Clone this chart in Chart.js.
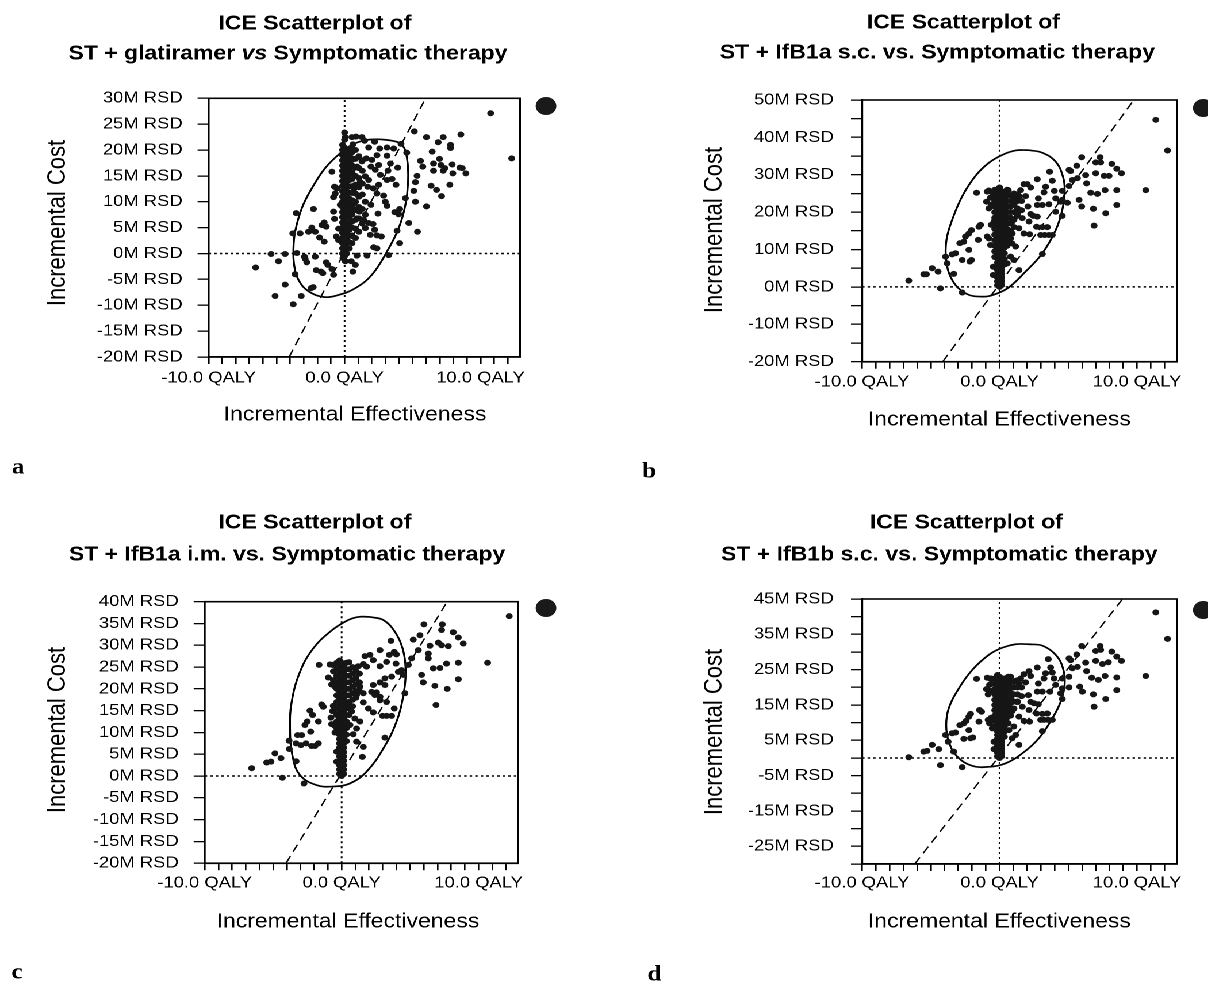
<!DOCTYPE html>
<html><head><meta charset="utf-8">
<script src="https://cdn.jsdelivr.net/npm/chart.js@4.4.0/dist/chart.umd.min.js"></script>
<style>
html,body{margin:0;padding:0;background:#fff;overflow:hidden;width:1208px;height:983px;}
#stage{position:absolute;left:0;top:0;width:1051px;height:983px;transform:scaleX(1.15);transform-origin:0 0;}
#stage canvas{position:absolute;}
</style></head><body>
<div id="stage">
<canvas id="ca" width="522" height="490" style="left:0px;top:0px"></canvas>
<canvas id="cb" width="529" height="490" style="left:521.7px;top:0px"></canvas>
<canvas id="cc" width="522" height="493" style="left:0px;top:490px"></canvas>
<canvas id="cd" width="529" height="493" style="left:521.7px;top:490px"></canvas>
</div>
<script>
// ---------- shared axis data ----------
const effRange = [-10, 12.9];
const effLabelEvery = 10;

// ---------- panel a : ST + glatiramer ----------
const aCostRange = [-20, 30];
const aPoints = [[10.74,27.1],[12.29,18.4],[5.13,23.6],[6.02,22.5],[7.25,22.5],[6.88,21.5],[8.55,23.0],[7.79,21.0],[7.79,20.4],[6.44,19.7],[4.57,19.5],[4.15,21.2],[6.98,18.3],[5.58,17.9],[5.75,16.8],[6.54,17.4],[6.54,16.0],[7.08,17.1],[7.25,16.0],[7.37,16.5],[7.91,17.2],[7.96,15.5],[8.48,16.6],[8.65,16.5],[8.92,15.5],[7.74,13.3],[7.13,11.1],[6.76,12.3],[6.36,13.1],[5.33,15.0],[5.21,13.8],[5.09,12.1],[5.21,10.0],[6.02,9.1],[5.36,4.2],[4.72,5.9],[4.05,2.0],[3.86,4.4],[3.24,-0.3],
[0,23.4],[0.05,22.5],[0.54,22.5],[0.84,22.6],[1.28,22.5],[1.47,21.8],[0.61,21.1],[0.54,20.3],[1.77,20.5],[2.21,21.6],[2.58,20.3],[3.12,20.5],[3.61,20.3],[3.12,18.9],[2.38,19.0],[2.01,18.1],[1.6,18.4],[1.28,17.8],[0.54,18.1],[0.91,16.8],[1.94,16.8],[2.51,17.1],[2.26,16.2],[2.63,15.2],[3.19,16.0],[3.37,17.4],[3.91,16.6],[3.49,14.4],[3.78,13.3],[3.12,14.2],[1.52,14.9],[1.77,14.2],[1.15,13.8],[0.71,12.6],[1.70,12.9],[2.11,12.6],[2.51,13.3],[2.38,11.6],[2.87,11.2],[2.99,10.0],[3.12,9.2],[3.69,8.0],[3.98,7.6],[4.05,8.6],[4.47,10.7],[2.46,7.7],[1.94,9.4],[1.52,10.0],[1.52,7.5],[1.08,8.1],[0.69,9.7],[0.91,6.8],[1.40,6.5],[1.77,5.9],[2.09,5.7],[1.52,4.9],[1.89,3.6],[2.21,4.6],[2.38,3.5],[2.70,3.3],[2.14,1.2],[2.38,1.0],[0.91,-0.4],[1.65,-0.4],[0.49,-1.5],[0.79,-2.2],[0.61,-3.5],[0.05,-1.5],[-0.12,-0.9],
[-0.93,15.8],[-0.81,10.9],[-0.69,11.6],[-0.74,12.9],[-0.57,12.6],[-2.29,8.6],[-3.56,7.8],[-1.5,6.0],[-1.67,5.5],[-2.41,5.0],[-2.65,4.2],[-2.16,4.2],[-3.81,3.9],[-3.27,3.9],[-1.84,3.1],[-1.5,2.3],[-0.81,8.1],[-0.74,6.7],[-0.61,3.3],[-0.44,2.6],[-4.37,-0.1],[-5.41,-0.1],[-4.86,-1.5],[-6.54,-2.7],[-2.95,-0.6],[-2.9,-1.0],[-2.16,-0.6],[-2.78,-1.7],[-1.35,-1.7],[-1.23,-2.2],[-2.09,-3.2],[-1.74,-3.5],[-1.6,-3.8],[-0.93,-3.0],[-0.81,-4.1],[-3.64,-4.0],[-4.37,-6.0],[-5.11,-8.2],[-3.78,-9.8],[-3.19,-8.2],[-2.46,-6.7],[-2.31,-6.5],[-3.51,0.1],[-1.35,5.2],[-0.44,4.8],[-0.32,9.4]];
const aBandEff = [-0.15, 0, 0.15, 0.35, 0.55, 0.8, 1.05, 1.3];
const aBandCost = [
 [0,1,2,3,4,5,6,7,8,9,10,11,12,13,14,15,16,17,18,19,20,21],
 [-0.5,0.5,1.5,2.5,3.5,4.5,5.5,6.5,7.5,8.5,9.5,10.5,11.5,12.5,13.5,14.5,15.5,16.5,17.5,18.5,19.5,20.5,22],
 [0,1,2,3,4,5,6,7,8,9,10,11,12,13,14,15,16,17,18,19,20],
 [1,2.2,3.4,4.6,5.8,7,8.2,9.4,10.6,11.8,13,14.2,15.4,16.6,17.8,19,20.2],
 [2,3.5,5,6.2,7.6,9,10.3,11.7,13,14.4,15.7,17,18.4,19.6],
 [3,4.8,6.5,8.4,10,11.6,13.3,15,16.6,18.3,20],
 [4.2,6.8,9,11,12.8,14.6,16.5,18.8],
 [5.8,8.6,11.4,13.5,16,18]];
const aEllipse = [[2.51,22.1],[3.49,21.8],[4.23,21.0],[4.59,18.4],[4.67,13.9],[4.47,9.4],[3.98,4.9],[3.12,0.4],[2.01,-4.1],[0.79,-6.7],[-0.44,-8.0],[-1.55,-8.4],[-2.65,-7.3],[-3.39,-5.1],[-3.71,-2.2],[-3.76,1.0],[-3.64,4.2],[-3.14,8.8],[-2.41,12.6],[-1.43,16.5],[-0.32,19.4],[0.54,21.0],[1.52,21.9],[2.51,22.1]];
const aThreshold = [[-4.08,-20],[5.96,30]];

// ---------- panel b : ST + IfB1a s.c. ----------
const bCostRange = [-20, 50];
const bPoints = [[11.36,44.7],[12.21,36.5],[10.63,25.9],[5.97,34.7],[7.31,34.7],[7.35,33.3],[6.99,33.3],[8.16,32.9],[8.52,31.6],[8.86,30.4],[5.61,32.4],[5.05,31.3],[5.17,31.0],[5.66,29.1],[6.26,29.9],[6.99,30.4],[7.6,29.7],[7.96,29.7],[6.33,27.7],[6.63,25.2],[7.11,24.9],[7.67,25.9],[8.52,25.9],[5.78,23.3],[5.97,21.5],[6.82,20.9],[7.72,19.7],[8.52,21.9],[6.87,16.4],[5.05,27.0],[5.29,28.6],[4.93,22.5],[4.44,22.8],
[3.64,30.8],[3.83,28.4],[3.35,26.8],[2.74,28.8],[2.01,27.5],[1.77,27.5],[2.26,26.6],[1.53,25.9],[0.63,25.9],[1.04,24.8],[1.41,24.3],[1.89,24.3],[2.82,23.7],[3.23,25.3],[3.98,25.7],[4.56,25.7],[4.08,23.7],[4.56,23.3],[3.59,22.1],[3.11,21.9],[2.74,21.9],[2.06,21.5],[2.26,19.5],[2.45,19.0],[2.74,18.8],[2.14,17.5],[1.65,18.4],[1.29,19.7],[0.92,17.5],[1.41,15.7],[1.77,14.3],[2.18,14.1],[2.69,16.1],[3.11,16.0],[3.47,16.0],[3.83,13.9],[3.59,13.9],[3.28,13.9],[2.99,13.9],[4.08,20.1],[4.56,19.0],[3.11,8.8],[0.92,14.3],[1.17,10.8],[1.41,4.5],[1.04,7.2],[0.8,8.1],[0.56,6.3],[0.92,11.6],
[-1.67,25.2],[-0.9,25.5],[-0.78,25.8],[-0.66,23.9],[-0.78,21.0],[-0.95,22.8],[-1.5,16.1],[-1.38,16.6],[-0.61,16.6],[-0.9,13.5],[-0.78,13.0],[-0.66,11.2],[-0.41,17.5],[-2.23,14.3],[-2.04,15.2],[-2.48,13.5],[-1.55,12.6],[-2.6,12.1],[-2.89,11.7],[-2.23,9.9],[-2.04,7.2],[-2.16,6.8],[-2.72,7.2],[-3.2,9.0],[-3.45,8.7],[-3.81,6.3],[-3.93,8.1],[-4.9,5.0],[-4.47,4.1],[-5.51,3.4],[-5.32,3.4],[-6.6,1.7],[-4.3,-0.4],[-2.72,-1.5],[-3.33,3.5],[-0.46,5.4],[-0.46,3.2]];
const bBandEff = [-0.15, 0, 0.15, -0.35, 0.35, 0.55, 0.8, 1.05, 1.3, 1.6, -0.6];
const bBandCost = [
 [0.5,1.5,2.5,3.5,4.5,5.5,6.5,7.5,8.5,9.5,10.5,11.5,12.5,13.5,14.5,15.5,16.5,17.5,18.5,19.5,20.5,21.5,22.5,23.5,24.5,25.5],
 [0,1,2,3,4,5,6,7,8,9,10,11,12,13,14,15,16,17,18,19,20,21,22,23,24,25,26,26.6],
 [0.5,1.5,2.5,3.5,4.5,5.5,6.5,7.5,8.5,9.5,10.5,11.5,12.5,13.5,14.5,15.5,16.5,17.5,18.5,19.5,20.5,21.5,22.5,23.5,24.5,25.5],
 [8,9.5,11,12.5,14,15.5,17,18.5,20,21.5,23,24.5,26],
 [6,7.5,9,10.5,12,13.5,15,16.5,18,19.5,21,22.5,24,25.5],
 [11,12.5,14,15.5,17,18.5,20,21.5,23,24.5,26],
 [13,15,17,18.5,20,21.5,23,24.5],
 [16,18,20,22,23.5,25],
 [19,21,23,24.8],
 [20.5,23],
 [22,24,25.5]];
const bEllipse = [[2.09,36.6],[3.11,35.9],[4.08,33.5],[4.61,29.5],[4.73,25.9],[4.56,20.6],[4.08,15.2],[3.11,9.0],[1.89,4.1],[0.68,-0.1],[-0.29,-1.9],[-1.26,-2.6],[-2.48,-1.7],[-3.45,1.9],[-3.88,7.2],[-3.86,12.6],[-3.45,17.9],[-2.72,24.2],[-1.75,29.7],[-0.78,33.2],[0.19,35.3],[1.17,36.5],[2.09,36.6]];
const bThreshold = [[-4.13,-20],[9.76,50]];

// ---------- panel c : ST + IfB1a i.m. ----------
const cCostRange = [-20, 40];
const cPoints = [[12.24,36.7],[10.66,26.0],[6.01,34.8],[7.35,34.8],[7.3,33.5],[8.15,33.0],[8.52,31.8],[8.88,30.4],[7.79,29.8],[7.3,30.0],[7.06,30.6],[6.45,29.9],[6.33,28.1],[6.33,27.0],[6.69,24.7],[7.18,24.8],[7.66,25.8],[8.52,26.0],[5.84,23.2],[5.96,21.5],[6.81,20.7],[7.71,20.0],[8.52,22.2],[6.89,16.3],[5.72,32.3],[5.23,31.3],[5.6,28.9],[5.11,27.0],[4.87,25.5],[4.5,23.2],[4.62,19.0],
[3.6,31.0],[3.84,28.5],[4.0,27.9],[3.48,27.8],[2.8,28.9],[2.07,27.8],[1.7,27.5],[2.31,26.6],[1.58,25.7],[1.22,25.2],[0.54,26.1],[1.82,25.1],[2.8,25.2],[3.28,26.2],[3.97,25.8],[4.38,24.3],[4.14,23.9],[3.65,22.8],[3.16,22.4],[2.8,21.5],[2.31,20.9],[2.19,19.3],[2.55,19.2],[2.43,18.6],[2.8,18.2],[3.16,20.9],[1.58,19.0],[1.34,20.5],[1.09,18.6],[1.58,16.9],[1.95,15.5],[2.31,14.6],[2.8,17.4],[3.28,17.0],[2.99,13.8],[3.28,13.8],[3.65,13.8],[3.84,15.5],[3.16,8.8],[1.51,4.4],[1.58,6.7],[1.09,7.9],[0.85,9.6],[1.09,10.9],[0.61,11.7],[0.97,13.2],[1.34,12.5],[0.73,14.8],[0.49,16.3],
[-1.65,25.5],[-0.85,25.6],[-0.66,25.5],[-0.97,22.6],[-0.73,21.0],[-0.49,20.5],[-1.46,16.4],[-1.34,15.9],[-0.61,16.1],[-0.66,14.9],[-0.78,13.4],[-0.73,11.9],[-0.49,11.5],[-0.49,10.0],[-2.31,15.0],[-2.12,14.0],[-2.51,12.5],[-1.7,12.5],[-2.68,11.7],[-2.26,10.2],[-2.92,9.4],[-3.21,9.4],[-3.84,8.1],[-3.82,6.2],[-3.33,7.5],[-2.97,7.1],[-2.6,7.5],[-2.19,6.9],[-1.95,6.9],[-1.7,7.5],[-4.87,5.2],[-4.43,4.1],[-5.47,3.1],[-5.16,3.3],[-6.57,1.8],[-4.33,-0.4],[-3.33,3.4],[-2.75,-1.7],[-0.36,5.6],[-0.36,3.3]];
const cBandEff = [-0.15, 0, 0.15, -0.35, 0.35, 0.55, 0.8, 1.05, 1.3, -0.6];
const cBandCost = [
 [0.5,1.5,2.5,3.5,4.5,5.5,6.5,7.5,8.5,9.5,10.5,11.5,12.5,13.5,14.5,15.5,16.5,17.5,18.5,19.5,20.5,21.5,22.5,23.5,24.5,25.5,26.5],
 [0,1,2,3,4,5,6,7,8,9,10,11,12,13,14,15,16,17,18,19,20,21,22,23,24,25,26],
 [0.5,1.5,2.5,3.5,4.5,5.5,6.5,7.5,8.5,9.5,10.5,11.5,12.5,13.5,14.5,15.5,16.5,17.5,18.5,19.5,20.5,21.5,22.5,23.5,24.5,25.5],
 [11,12.5,14,15.5,17,18.5,20,21.5,23,24.5,26],
 [8,9.5,11,12.5,14,15.5,17,18.5,20,21.5,23,24.5,26],
 [14,15.5,17,18.5,20,21.5,23,24.5],
 [16,17.5,19,20.5,22,23.5,25],
 [18,19.5,21,22.5,24],
 [19.5,21.5,23.5],
 [22,24,25.5]];
const cEllipse = [[2.07,36.5],[3.04,35.8],[3.89,33.1],[4.45,29.3],[4.67,24.7],[4.55,19.3],[4.01,12.5],[3.04,6.3],[1.82,1.0],[0.61,-1.7],[-0.61,-2.4],[-1.82,-2.1],[-3.04,0.2],[-3.6,4.8],[-3.77,10.9],[-3.65,17.0],[-3.04,23.9],[-2.07,29.3],[-0.85,33.1],[0.36,35.6],[1.22,36.5],[2.07,36.5]];
const cThreshold = [[-4.06,-20],[7.71,40]];

// ---------- panel d : ST + IfB1b s.c. ----------
const dCostRange = [-30, 45];
const dPoints = [[11.36,41.2],[12.21,33.7],[10.63,23.2],[5.97,31.7],[7.31,31.7],[7.35,30.6],[6.99,30.3],[8.16,30.1],[8.52,28.7],[8.86,27.5],[5.61,29.3],[5.05,28.2],[5.17,27.7],[5.66,25.8],[6.26,27.0],[6.99,27.5],[7.48,26.6],[7.91,27.1],[6.33,24.6],[6.7,22.7],[7.18,22.1],[7.67,23.2],[8.52,22.8],[5.83,20.2],[6.02,18.8],[6.82,18.0],[7.72,16.7],[8.52,19.2],[6.87,14.5],[5.05,23.0],[5.29,25.4],[5.05,20.0],[4.56,16.7],[4.44,18.3],
[3.54,28.0],[3.71,25.6],[3.83,24.2],[3.35,24.0],[2.74,25.6],[2.14,24.6],[1.77,23.7],[2.26,23.2],[1.53,22.5],[0.63,23.0],[1.12,21.8],[1.41,21.1],[1.89,21.4],[2.82,21.1],[3.23,22.5],[3.96,22.5],[4.56,22.5],[4.08,20.7],[4.56,19.7],[3.66,18.8],[3.11,18.8],[2.74,18.8],[2.09,17.8],[2.26,15.9],[2.5,15.5],[2.82,15.2],[2.14,13.6],[1.65,14.5],[1.29,15.8],[0.92,13.3],[1.41,11.7],[1.77,10.5],[2.18,10.3],[2.69,12.6],[3.11,12.5],[3.47,12.6],[3.83,10.8],[3.54,10.8],[3.23,10.8],[2.99,10.8],[3.11,7.6],[1.41,3.7],[1.17,6.5],[0.92,5.6],[0.68,7.9],[1.04,8.9],[0.63,9.8],
[-1.67,22.4],[-0.9,22.7],[-0.66,22.5],[-0.73,20.7],[-0.83,18.0],[-0.95,19.5],[-1.46,13.6],[-1.31,13.1],[-0.61,11.4],[-0.83,10.8],[-0.73,9.8],[-0.53,8.4],[-0.41,4.6],[-2.23,11.7],[-2.11,12.5],[-2.43,10.5],[-1.5,10.3],[-2.6,9.8],[-2.89,9.3],[-2.23,7.9],[-1.94,5.8],[-2.11,5.6],[-2.6,5.4],[-3.2,7.2],[-3.45,7.0],[-3.74,4.6],[-3.93,6.5],[-4.9,3.7],[-4.42,2.5],[-5.51,1.8],[-5.27,2.0],[-6.6,0.2],[-4.3,-2.0],[-2.72,-2.6],[-3.33,1.8],[-0.41,2.5]];
const dBandEff = [-0.15, 0, 0.15, -0.35, 0.35, 0.55, 0.8, 1.05, 1.3, 1.6, -0.6];
const dBandCost = [
 [0.5,1.5,2.5,3.5,4.5,5.5,6.5,7.5,8.5,9.5,10.5,11.5,12.5,13.5,14.5,15.5,16.5,17.5,18.5,19.5,20.5,21.5,22.5,23.5],
 [0,1,2,3,4,5,6,7,8,9,10,11,12,13,14,15,16,17,18,19,20,21,22,23],
 [0.5,1.5,2.5,3.5,4.5,5.5,6.5,7.5,8.5,9.5,10.5,11.5,12.5,13.5,14.5,15.5,16.5,17.5,18.5,19.5,20.5,21.5,22.5],
 [9,10.5,12,13.5,15,16.5,18,19.5,21,22.5],
 [6,7.5,9,10.5,12,13.5,15,16.5,18,19.5,21,22.5],
 [10,11.5,13,14.5,16,17.5,19,20.5,22],
 [12,14,15.5,17,18.5,20,21.5,23],
 [14,16,18,20,21.5],
 [16,18,20,22],
 [17.5,20],
 [19,21,22.5]];
const dEllipse = [[2.14,32.2],[3.11,31.8],[4.08,29.2],[4.61,25.4],[4.73,20.7],[4.44,15.9],[3.83,11.2],[2.86,5.6],[1.65,1.3],[0.44,-1.5],[-0.78,-2.5],[-1.99,-2.2],[-3.08,0.4],[-3.69,4.6],[-3.88,9.3],[-3.69,14.1],[-2.96,19.7],[-1.99,24.9],[-0.78,29.2],[0.19,31.2],[1.17,32.2],[2.14,32.2]];
const dThreshold = [[-6.17,-30],[8.94,45]];

// ---------- titles ----------
const titleLine1 = 'ICE Scatterplot of';
const aTitle2 = [['ST + glatiramer ', false], ['vs', true], [' Symptomatic therapy', false]];
const bTitle2 = [['ST + IfB1a s.c. vs. Symptomatic therapy', false]];
const cTitle2 = [['ST + IfB1a i.m. vs. Symptomatic therapy', false]];
const dTitle2 = [['ST + IfB1b s.c. vs. Symptomatic therapy', false]];
const xTitle = 'Incremental Effectiveness';
const yTitle = 'Incremental Cost';

const SANS = "'Liberation Sans', Arial, Helvetica, sans-serif";
const SERIF = "'Liberation Serif', 'Times New Roman', serif";

const toXY = arr => arr.map(p => ({x: p[0], y: p[1]}));
const bandXY = (effs, costs) => effs.flatMap((e, i) => costs[i].map(c => ({x: e, y: c})));

function buildPanel(cfg) {
  const plotPlugin = {
    id: 'deco' + cfg.id,
    afterDraw(chart) {
      const ctx = chart.ctx, ca = chart.chartArea;
      ctx.save();
      ctx.strokeStyle = '#000'; ctx.lineWidth = 1.6;
      ctx.strokeRect(ca.left, ca.top, ca.right - ca.left, ca.bottom - ca.top);
      ctx.fillStyle = '#000';
      ctx.textBaseline = 'middle';
      ctx.font = 'bold 20px ' + SANS;
      ctx.textAlign = 'center';
      ctx.fillText(titleLine1, cfg.t1[0], cfg.t1[1]);
      const parts = cfg.title2.map(([s, it]) => {
        ctx.font = (it ? 'italic bold 20px ' : 'bold 20px ') + SANS;
        return {s, it, w: ctx.measureText(s).width};
      });
      const total = parts.reduce((a, p) => a + p.w, 0);
      let x = cfg.t2[0] - total / 2;
      ctx.textAlign = 'left';
      parts.forEach(p => {
        ctx.font = (p.it ? 'italic bold 20px ' : 'bold 20px ') + SANS;
        ctx.fillText(p.s, x, cfg.t2[1]);
        x += p.w;
      });
      ctx.textAlign = 'center';
      ctx.font = '20px ' + SANS;
      ctx.fillText(xTitle, cfg.xt[0], cfg.xt[1]);
      ctx.save();
      ctx.translate(cfg.yt[0], cfg.yt[1]);
      ctx.rotate(-Math.PI / 2);
      ctx.font = '22px ' + SANS;
      ctx.fillText(yTitle, 0, 0);
      ctx.restore();
      ctx.font = 'bold 22px ' + SERIF;
      ctx.fillText(cfg.letter, cfg.lt[0], cfg.lt[1]);
      ctx.fillStyle = '#1a1a1a';
      ctx.beginPath();
      ctx.arc(cfg.dot[0], cfg.dot[1], 9, 0, Math.PI * 2);
      ctx.fill();
      ctx.restore();
    }
  };
  const [ymin, ymax] = cfg.range;
  new Chart(document.getElementById(cfg.id), {
    type: 'scatter',
    data: {
      datasets: [
        {data: toXY(cfg.points).concat(bandXY(cfg.bandEff, cfg.bandCost)), pointRadius: 3, pointHoverRadius: 3,
         backgroundColor: '#161616', borderWidth: 0, pointBorderWidth: 0, showLine: false},
        {data: toXY(cfg.ellipse), showLine: true, pointRadius: 0, borderColor: '#000', borderWidth: 1.7, tension: 0.4, fill: false},
        {data: toXY(cfg.threshold), showLine: true, pointRadius: 0, borderColor: '#000', borderWidth: 1.3, borderDash: [8, 5], fill: false},
        {data: toXY([[0, ymin], [0, ymax]]), showLine: true, pointRadius: 0, borderColor: '#000', borderWidth: 1.5, borderDash: [2, 3], fill: false},
        {data: toXY([[effRange[0], 0], [effRange[1], 0]]), showLine: true, pointRadius: 0, borderColor: '#000', borderWidth: 1.5, borderDash: [2.2, 2.6], fill: false}
      ]
    },
    options: {
      responsive: false, animation: false, devicePixelRatio: 2,
      events: [],
      layout: {padding: {left: 0, top: cfg.T, right: cfg.W - cfg.R, bottom: cfg.H - cfg.B - 40}},
      plugins: {legend: {display: false}, tooltip: {enabled: false}, title: {display: false}},
      scales: {
        x: {
          type: 'linear', min: effRange[0], max: effRange[1],
          afterFit(s) { s.height = 40; },
          ticks: {stepSize: 1, autoSkip: false, includeBounds: false, maxRotation: 0, minRotation: 0,
                  padding: cfg.xPad, color: '#000', font: {family: SANS, size: 16},
                  callback: v => (v % effLabelEvery === 0) ? v.toFixed(1) + ' QALY' : ''},
          grid: {drawOnChartArea: false, drawTicks: true, tickLength: 7, color: '#000', lineWidth: 1.3},
          border: {display: true, color: '#000', width: 1.6}
        },
        y: {
          type: 'linear', min: ymin, max: ymax,
          afterFit(s) { s.width = cfg.L; },
          ticks: {stepSize: 5, autoSkip: false, includeBounds: false, padding: cfg.yPad, color: '#000',
                  font: {family: SANS, size: 16},
                  callback: v => ((ymax - v) % cfg.labelStep === 0) ? v + 'M RSD' : ''},
          grid: {drawOnChartArea: false, drawTicks: true, tickLength: 9.6, color: '#000', lineWidth: 1.3},
          border: {display: true, color: '#000', width: 1.6}
        }
      }
    },
    plugins: [plotPlugin]
  });
}

buildPanel({id: 'ca', W: 522, H: 490, L: 181.4, R: 452.2, T: 98.3, B: 357, range: aCostRange, labelStep: 5, yPad: 13, xPad: 4.4,
  points: aPoints, bandEff: aBandEff, bandCost: aBandCost, ellipse: aEllipse, threshold: aThreshold,
  title2: aTitle2, t1: [273.9, 24], t2: [250.4, 54], xt: [308.7, 415], yt: [50.4, 223], letter: 'a', lt: [15.7, 468], dot: [474.8, 106]});
buildPanel({id: 'cb', W: 529, H: 490, L: 227.6, R: 501.5, T: 100, B: 361.7, range: bCostRange, labelStep: 10, yPad: 15, xPad: 3.7,
  points: bPoints, bandEff: bBandEff, bandCost: bBandCost, ellipse: bEllipse, threshold: bThreshold,
  title2: bTitle2, t1: [315.7, 23], t2: [293.1, 53], xt: [347.0, 420], yt: [99.2, 230], letter: 'b', lt: [42.6, 472], dot: [524.4, 108]});
buildPanel({id: 'cc', W: 522, H: 493, L: 178.0, R: 450.7, T: 111.7, B: 373.2, range: cCostRange, labelStep: 5, yPad: 13, xPad: 3.2,
  points: cPoints, bandEff: cBandEff, bandCost: cBandCost, ellipse: cEllipse, threshold: cThreshold,
  title2: cTitle2, t1: [273.9, 33], t2: [249.6, 65], xt: [302.6, 432], yt: [50.4, 240], letter: 'c', lt: [14.8, 483], dot: [474.8, 118]});
buildPanel({id: 'cd', W: 529, H: 493, L: 227.6, R: 501.5, T: 109, B: 374, range: dCostRange, labelStep: 10, yPad: 15, xPad: 2.4,
  points: dPoints, bandEff: dBandEff, bandCost: dBandCost, ellipse: dEllipse, threshold: dThreshold,
  title2: dTitle2, t1: [318.3, 33], t2: [294.8, 65], xt: [347.0, 432], yt: [99.2, 242], letter: 'd', lt: [47.0, 485], dot: [524.4, 120]});
</script>
</body></html>
